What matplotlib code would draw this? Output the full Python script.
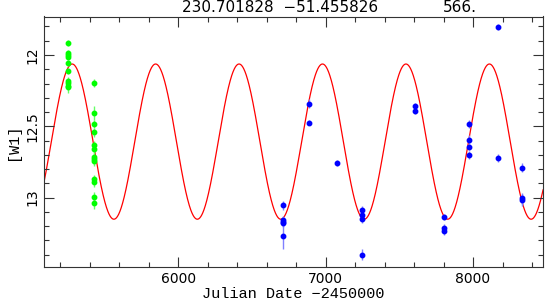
#!/usr/bin/env python3
import matplotlib
matplotlib.use("Agg")
import matplotlib.pyplot as plt
import numpy as np
from matplotlib.ticker import MultipleLocator

# model sinusoid parameters
period = 566.0
t_peak = 5281.0
mag_mean = 12.607
mag_amp = 0.544

# early epoch (green)
green_jd = [5252] * 10 + [5430] * 13
green_mag = [11.916, 11.988, 11.998, 12.012, 12.058, 12.112, 12.182, 12.198, 12.215, 12.224,
             12.196, 12.409, 12.484, 12.542, 12.631, 12.661, 12.717, 12.731, 12.745,
             12.871, 12.892, 12.993, 13.037]
green_err = [0.02, 0.02, 0.02, 0.02, 0.02, 0.02, 0.03, 0.03, 0.03, 0.04,
             0.03, 0.05, 0.03, 0.03, 0.03, 0.03, 0.03, 0.03, 0.03,
             0.03, 0.03, 0.03, 0.04]

# later epochs (blue)
blue_jd = [6710, 6710, 6710, 6710, 6710, 6890, 6890, 7076,
           7250, 7250, 7250, 7250, 7607, 7607, 7803, 7803, 7803,
           7971, 7971, 7971, 7971, 8167, 8167, 8332, 8332, 8332]
blue_mag = [13.053, 13.156, 13.168, 13.179, 13.268, 12.341, 12.474, 12.759,
            13.086, 13.121, 13.151, 13.399, 12.355, 12.392, 13.135, 13.212, 13.231,
            12.484, 12.593, 12.643, 12.701, 11.806, 12.722, 12.790, 13.005, 13.016]
blue_err = [0.03, 0.03, 0.03, 0.03, 0.09, 0.03, 0.02, 0.02,
            0.03, 0.03, 0.03, 0.04, 0.02, 0.02, 0.02, 0.03, 0.03,
            0.03, 0.03, 0.02, 0.03, 0.02, 0.03, 0.03, 0.04, 0.04]

fig = plt.figure(figsize=(5.46, 3.00), dpi=100)
ax = fig.add_axes([0.0806, 0.11, 0.914, 0.835])

t = np.linspace(5090, 8475, 2000)
ax.plot(t, mag_mean - mag_amp * np.cos(2 * np.pi * (t - t_peak) / period),
        color="#ff0000", lw=0.9, zorder=1)

ax.errorbar(green_jd, green_mag, yerr=green_err, fmt="o", color="#00ff00",
            ms=3.2, elinewidth=1.0, ecolor="#66ff66", capsize=0, zorder=3)
ax.errorbar(blue_jd, blue_mag, yerr=blue_err, fmt="o", color="#0000ff",
            ms=3.2, elinewidth=1.0, ecolor="#8080ff", capsize=0, zorder=3)

ax.set_xlim(5090, 8475)
ax.set_ylim(13.486, 11.73)
ax.xaxis.set_major_locator(MultipleLocator(1000))
ax.xaxis.set_minor_locator(MultipleLocator(200))
ax.yaxis.set_major_locator(MultipleLocator(0.5))
ax.yaxis.set_minor_locator(MultipleLocator(0.1))
ax.yaxis.set_major_formatter(lambda v, pos: f"{v:g}")
ax.tick_params(which="both", direction="in", top=True, right=True, color="#333333",
               labelsize=10, width=0.8)
ax.tick_params(which="major", length=7)
ax.tick_params(which="minor", length=3.5)
for lab in ax.get_yticklabels():
    lab.set_rotation(90)
    lab.set_va("center")
for s in ax.spines.values():
    s.set_color("#333333")
    s.set_linewidth(0.8)

ax.set_xlabel("Julian Date \u22122450000", family="Liberation Mono", fontsize=11, labelpad=1)
ax.set_ylabel("[W1]", family="Liberation Mono", fontsize=11, labelpad=4)

fig.text(0.513, 0.975, "230.701828  \u221251.455826", ha="center", va="center", fontsize=11)
fig.text(0.843, 0.975, "566.", ha="center", va="center", fontsize=11)

fig.savefig("out.png", dpi=100)
